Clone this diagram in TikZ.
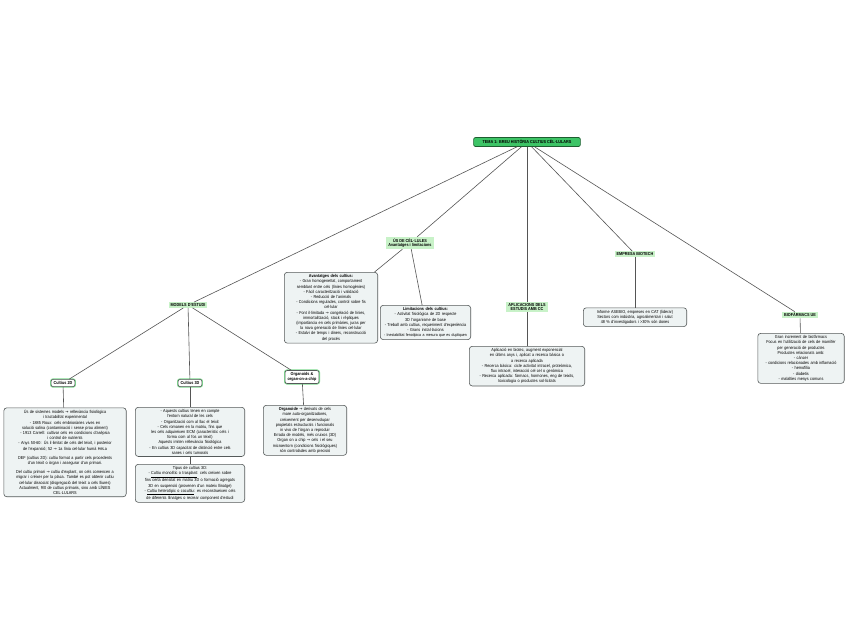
\documentclass[tikz,border=0pt]{standalone}
\usepackage{fontspec}
\setmainfont{Liberation Sans}[FakeStretch=0.88]
\newfontfamily\djv{DejaVu Sans}[FakeStretch=0.88]
\newcommand{\arw}{{\djv →}}
\definecolor{rootgreen}{HTML}{3DC466}
\definecolor{darkgreen}{HTML}{1E5E30}
\definecolor{lightgreen}{HTML}{C8F2C8}
\definecolor{halo}{HTML}{7FD98F}
\definecolor{boxfill}{HTML}{EEF3F3}
\definecolor{boxborder}{HTML}{555A5A}
\definecolor{linegray}{HTML}{555555}
\begin{document}
\begin{tikzpicture}[x=1pt,y=-1pt,
  every node/.style={font=\fontsize{4.3}{5.2}\selectfont, text=black},
  rootbox/.style={draw=darkgreen, fill=rootgreen, rounded corners=2pt, line width=0.7pt,
    inner xsep=9pt, inner ysep=2.6pt, font=\fontsize{4.3}{5.2}\selectfont\bfseries},
  topic/.style={fill=lightgreen, inner xsep=2pt, inner ysep=1.2pt, align=center,
    font=\fontsize{4.3}{4.9}\selectfont\bfseries},
  subbox/.style={draw=boxborder, fill=white, rounded corners=2pt, line width=0.6pt,
    align=center, inner xsep=2.5pt, inner ysep=2pt,
    preaction={draw=halo, line width=2.2pt},
    font=\fontsize{4.3}{4.9}\selectfont\bfseries},
  textbox/.style={draw=boxborder, fill=boxfill, rounded corners=3pt, line width=0.6pt,
    align=center, inner sep=2.2pt, anchor=north},
  conn/.style={draw=linegray, line width=0.6pt}]
\useasboundingbox[fill=white] (0,0) rectangle (848,638);

% main nodes
\node[rootbox] (root) at (527,142) {TEMA 1: BREU HISTÒRIA CULTIUS CÈL·LULARS};
\node[topic] (us) at (410,243) {ÚS DE CÈL·LULES\\Avantatges i limitacions};
\node[topic] (models) at (188,305) {MODELS D'ESTUDI};
\node[topic] (aplic) at (527,307) {APLICACIONS DELS\\ESTUDIS AMB CC};
\node[topic] (empresa) at (635,254) {EMPRESA BIOTECH};
\node[topic] (bio) at (800,315) {BIOFÀRMACS UE};

% ús de cèl·lules
\node[textbox, text width=89pt] (avant) at (331,272) {\textbf{Avantatges dels cultius:}\\
- Gran homogeneïtat, comportament\\
semblant entre cels (línies homogènies)\\
- Fàcil caracterització i validació\\
- Reducció de l'animals\\
- Condicions regulades, control sobre fis\\
cel·lular\\
- Font il·limitada \arw{} congelació de línies,\\
immortalització, stock i rèpliques\\
(importància en cels primàries, juras per\\
la nova generació de línies cel·lular\\
- Estalvi de temps i diners, reconstrucció\\
del procés};
\node[textbox, text width=86pt] (limit) at (425.5,305) {\textbf{Limitacions dels cultius:}\\
- Activitat fisiològica de 2D respecte\\
3D l'organisme de base\\
- Treball amb cultius, requeriment d'experiència\\
- Grans instal·lacions\\
{\fontsize{4.0}{5.2}\selectfont - Inestabilitat fenotípica a mesura que es dupliquen}};

% aplicacions
\node[textbox, text width=111pt] (aplicbox) at (527,346) {Aplicació en biotec, augment exponencial\\
en últims anys i, aplicat a recerca bàsica o\\
a recerca aplicada\\
- Recerca bàsica: cicle activitat intracel, proteòmica,\\
flux intracel, interacció cel·cel o genòmica\\
- Recerca aplicada: fàrmacs, hormones, eng de teixits,\\
toxicologia o productes sol·licitats};

% empresa
\node[textbox, text width=99pt] (empbox) at (635,307.5) {Informe ASEBIO, empreses en CAT (liderar)\\
Sectors com indústria, agroalimentari i salut\\
48 \% d'investigadors i >30\% són dones};

% biofarmacs
\node[textbox, text width=82pt] (biobox) at (801,333) {Gran increment de biofàrmacs\\
Focus en l'utilització de cels de mamífer\\
per generació de productes\\
Productes relacionats amb:\\
- càncer\\
- condicions relacionades amb inflamació\\
- hemofília\\
- diabetis\\
- malalties menys comuns};

% models
\node[subbox] (c2d) at (63,383) {Cultius 2D};
\node[subbox] (c3d) at (190,383) {Cultius 3D};
\node[subbox] (org) at (302,377) {Organoids \&\\organ-on-a-chip};

\node[textbox, text width=118pt] (box2d) at (65,407.5) {Ús de sistemes models \arw{} rellevància fisiològica\\
i tractabilitat experimental\\
- 1885 Roux: cels embrionàries vives en\\
solució salina (contaminació i sense prou aliment)\\
- 1913 Carrell: cultivar cels en condicions d'asèpsia\\
i control de nutrients\\
- Anys 50-60: Ús il·limitat de cels del teixit, i posterior\\
de l'expansió; 52 \arw{} 1a línia cel·lular humà HeLa\\[4pt]
DEF (cultius 2D): cultiu format a partir cels procedents\\
d'un teixit o òrgan i assegurar d'un primari.\\[4pt]
Del cultiu primari \arw{} cultiu d'explant, on cels comencen a\\
migrar i créixer per la placa. També es pot obtenir cultiu\\
cel·lular dissociat (disgregació del teixit a cels lliures)\\
Actualment, 9/0 de cultius primaris, sino amb LÍNIES\\
CEL·LULARS};

\node[textbox, text width=105pt] (box3a) at (190,407) {- Aquests cultius tenen en compte\\
l'entorn natural de les cels\\
- Organització com al llac el teixit\\
- Cels romanen en la matriu, fins que\\
les cels adquireixen ECM (característic cels i\\
forma com al fos un teixit)\\
Aquests imiten rellevància fisiològica\\
- En cultius 3D capacitat de distinció entre cels\\
sanes i cels tumorals};
\node[textbox, text width=105pt] (box3b) at (190,464) {Tipus de cultius 3D:\\
- \underline{Cultiu monolític o trasplant}: cels creixen sobre\\
fins certa densitat en matriu 3D o formació agregats\\
3D en suspensió (provenen d'un mateix llinatge)\\
- \underline{Cultiu heterotípic o cocultiu}: es reconstrueixen cels\\
de diferents llinatges o recrear component d'estudi};

\node[textbox, text width=79pt] (orgbox) at (305,405) {\textbf{Organoide} \arw{} derivats de cels\\
mare auto-organitzadores,\\
creixement per desenvolupar\\
propietats estructurals i funcionals\\
in vivo de l'òrgan a reproduir\\
Errada de models, més cruixos (3D)\\
Organ on a chip \arw{} cels i el seu\\
microentorn (condicions fisiològiques)\\
són controlades amb precisió};

% connectors
\draw[conn] (root) -- (us);
\draw[conn] (root) -- (models);
\draw[conn] (root) -- (aplic);
\draw[conn] (root) -- (empresa);
\draw[conn] (root) -- (bio);
\draw[conn] (us) -- (avant);
\draw[conn] (us) -- (limit);
\draw[conn] (aplic) -- (aplicbox);
\draw[conn] (empresa) -- (empbox);
\draw[conn] (bio) -- (biobox);
\draw[conn] (models) -- (c2d);
\draw[conn] (models) -- (c3d);
\draw[conn] (models) -- (org);
\draw[conn] (c2d) -- (box2d);
\draw[conn] (c3d) -- (box3a);
\draw[conn] (box3a) -- (box3b);
\draw[conn] (org) -- (orgbox);
\end{tikzpicture}
\end{document}
